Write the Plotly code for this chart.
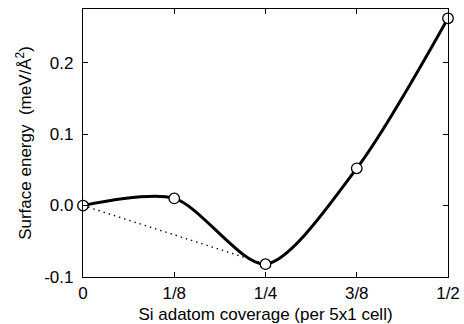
import plotly.graph_objects as go

coverage = [0, 0.125, 0.25, 0.375, 0.5]
energy = [0.0, 0.010, -0.082, 0.052, 0.262]
tick_vals = [0, 0.125, 0.25, 0.375, 0.5]
tick_text = ["0", "1/8", "1/4", "3/8", "1/2"]
ytick_vals = [-0.1, 0.0, 0.1, 0.2]
ytick_text = ["-0.1", "0.0", "0.1", "0.2"]
hull_x = [0, 0.25]
hull_y = [0.0, -0.082]

FONT = "Liberation Sans, Arial, Helvetica"

fig = go.Figure()
fig.add_trace(go.Scatter(x=hull_x, y=hull_y, mode="lines",
                         line=dict(color="black", width=1.4, dash="1.4px,4px"), showlegend=False))
fig.add_trace(go.Scatter(x=coverage, y=energy, mode="lines",
                         line=dict(color="black", width=3, shape="spline", smoothing=0.8), showlegend=False))
fig.add_trace(go.Scatter(x=coverage, y=energy, mode="markers",
                         marker=dict(size=10.5, color="white", line=dict(color="black", width=1.3)),
                         showlegend=False, cliponaxis=False))

axis_common = dict(showline=True, linecolor="black", linewidth=1.3, mirror="ticks",
                   ticks="inside", ticklen=5, tickwidth=1, tickcolor="black",
                   showgrid=False, zeroline=False, automargin=False,
                   tickfont=dict(family=FONT, size=17, color="black"))

fig.update_layout(
    width=464, height=324,
    margin=dict(l=83, r=16, t=9, b=47, autoexpand=False),
    paper_bgcolor="white", plot_bgcolor="white",
    xaxis=dict(range=[0, 0.5], tickvals=tick_vals, ticktext=tick_text,
               title=dict(text="Si adatom coverage (per 5x1 cell)", standoff=6,
                          font=dict(family=FONT, size=17, color="black")),
               **axis_common),
    yaxis=dict(range=[-0.1, 0.275], tickvals=ytick_vals, ticktext=ytick_text,
               ticklabelstandoff=5,
               title=dict(text="Surface energy  (meV/Å<sup>2</sup>)", standoff=8,
                          font=dict(family=FONT, size=17, color="black")),
               **axis_common),
)
fig.write_html("out.html", config={"displayModeBar": False},
               post_script="document.body.style.margin='0';document.body.style.overflow='hidden';")
